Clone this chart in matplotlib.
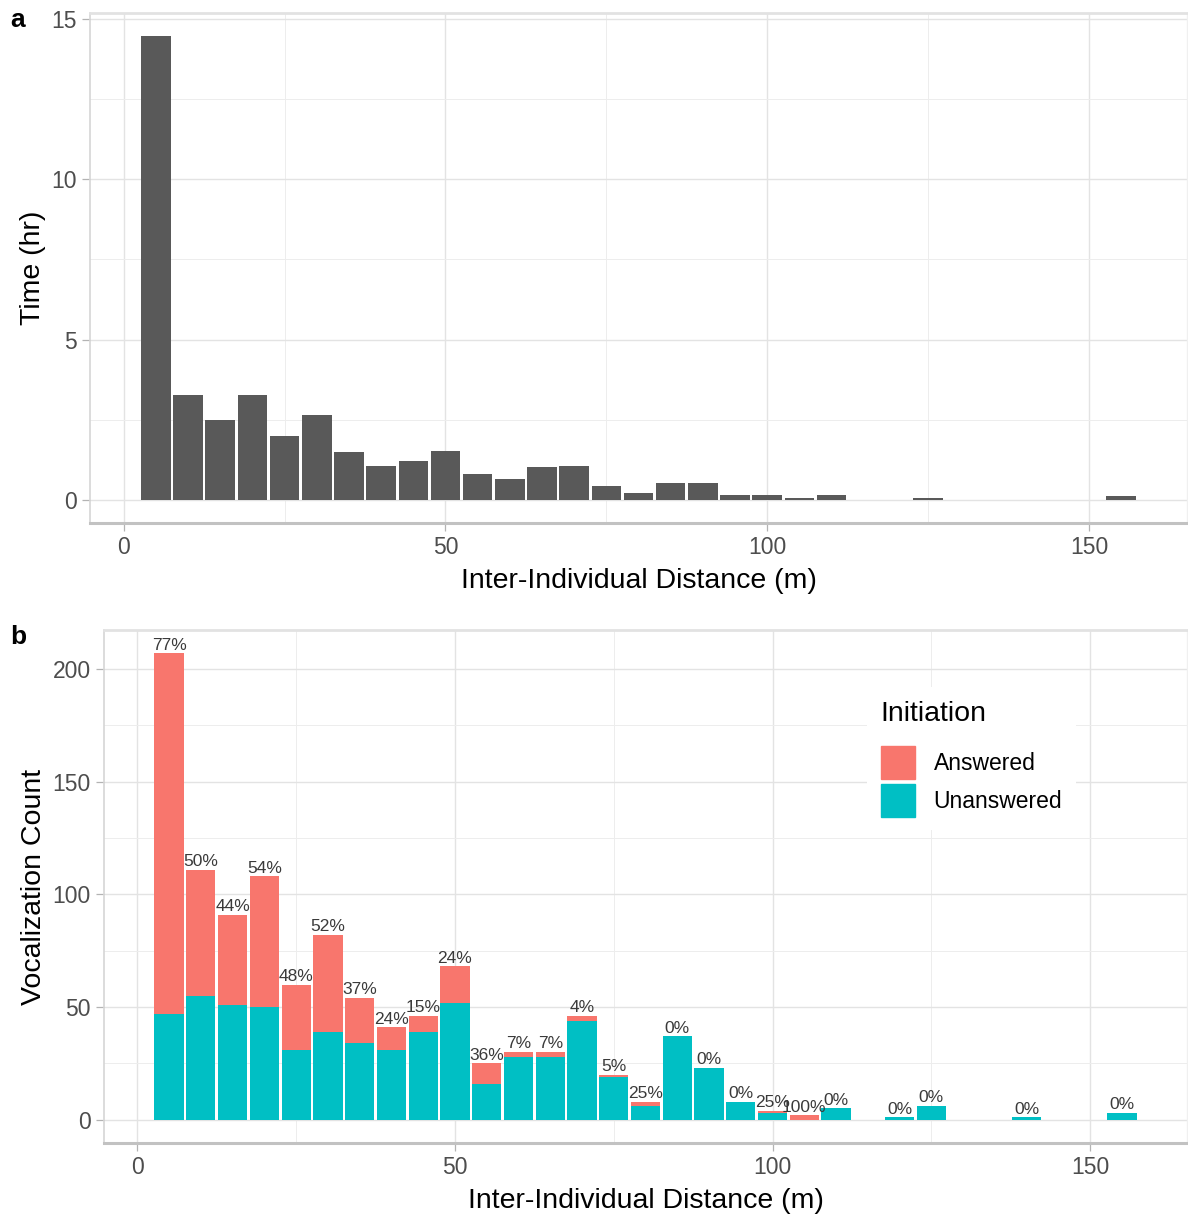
import matplotlib.pyplot as plt
from matplotlib.patches import Patch
from matplotlib.ticker import MultipleLocator

plt.rcParams['font.family'] = ['Liberation Sans', 'DejaVu Sans']

# panel a: time spent at each inter-individual distance (5 m bins)
time_bins = [5, 10, 15, 20, 25, 30, 35, 40, 45, 50, 55, 60, 65, 70, 75, 80,
             85, 90, 95, 100, 105, 110, 125, 155]
time_hr = [14.46, 3.27, 2.49, 3.27, 1.98, 2.65, 1.50, 1.05, 1.20, 1.52, 0.79,
           0.66, 1.02, 1.07, 0.43, 0.21, 0.53, 0.53, 0.15, 0.15, 0.07, 0.15,
           0.07, 0.13]

# panel b: vocalizations per distance bin, split by whether they were answered
voc_bins = [5, 10, 15, 20, 25, 30, 35, 40, 45, 50, 55, 60, 65, 70, 75, 80,
            85, 90, 95, 100, 105, 110, 120, 125, 140, 155]
answered = [160, 56, 40, 58, 29, 43, 20, 10, 7, 16, 9, 2, 2, 2, 1, 2,
            0, 0, 0, 1, 2, 0, 0, 0, 0, 0]
unanswered = [47, 55, 51, 50, 31, 39, 34, 31, 39, 52, 16, 28, 28, 44, 19, 6,
              37, 23, 8, 3, 0, 5, 1, 6, 1, 3]

RED = '#F8766D'
TEAL = '#00BFC4'
BAR_W = 4.6
GRID = '#E3E3E3'
TICK_COL = '#4D4D4D'


def style(ax, ymajor, ymax):
    ax.set_xlim(-5.25, 165.25)
    ax.set_ylim(-0.05 * ymax, 1.05 * ymax)
    ax.xaxis.set_major_locator(MultipleLocator(50))
    ax.xaxis.set_minor_locator(MultipleLocator(25))
    ax.yaxis.set_major_locator(MultipleLocator(ymajor))
    ax.yaxis.set_minor_locator(MultipleLocator(ymajor / 2))
    ax.grid(which='major', color=GRID, lw=1.0)
    ax.grid(which='minor', color='#EDEDED', lw=0.7)
    ax.set_axisbelow(True)
    ax.tick_params(which='major', length=5.5, width=0.9, color='#B3B3B3',
                   labelsize=16.5, labelcolor=TICK_COL, pad=4)
    ax.tick_params(which='minor', length=0)
    ax.spines['bottom'].set_color('#C2C2C2')
    ax.spines['bottom'].set_linewidth(2.2)
    ax.spines['top'].set_color('#E2E2E2')
    ax.spines['top'].set_linewidth(2.0)
    ax.spines['left'].set_color('#D6D6D6')
    ax.spines['left'].set_linewidth(1.2)
    ax.spines['right'].set_color('#F0F0F0')
    ax.spines['right'].set_linewidth(1.0)
    ax.set_xlabel('Inter-Individual Distance (m)', fontsize=20.5, labelpad=6)


fig = plt.figure(figsize=(11.88, 12.2), dpi=100)
ax1 = fig.add_axes([90 / 1188, 1 - 523 / 1220, 1097 / 1188, 510 / 1220])
ax2 = fig.add_axes([104 / 1188, 1 - 1143 / 1220, 1083 / 1188, 513 / 1220])

# a
ax1.bar(time_bins, time_hr, width=BAR_W, color='#595959')
style(ax1, 5, max(time_hr))
ax1.set_ylabel('Time (hr)', fontsize=20.5, labelpad=4)

# b
totals = [a + u for a, u in zip(answered, unanswered)]
ax2.bar(voc_bins, unanswered, width=BAR_W, color=TEAL)
ax2.bar(voc_bins, answered, width=BAR_W, bottom=unanswered, color=RED)
for x, a, t in zip(voc_bins, answered, totals):
    ax2.text(x, t + 0.3, f'{round(100 * a / t)}%', ha='center', va='bottom',
             fontsize=12.5, color='#3A3A3A')
style(ax2, 50, max(totals))
ax2.set_ylabel('Vocalization Count', fontsize=20.5, labelpad=4)

handles = [Patch(color=RED, label='Answered'),
           Patch(color=TEAL, label='Unanswered')]
leg = ax2.legend(handles=handles, title='Initiation', loc='upper left',
                 bbox_to_anchor=(0.694, 0.911), fontsize=16.5,
                 title_fontsize=20.5, frameon=True, fancybox=False,
                 edgecolor='none', facecolor='white', framealpha=1,
                 handlelength=1.5, handleheight=1.83, labelspacing=0.2,
                 handletextpad=0.8, borderpad=0.6)
leg._legend_box.align = 'left'
leg._legend_box.sep = 14

fig.text(18 / 1188, 1 - 20 / 1220, 'a', fontsize=19, fontweight='bold',
         ha='center', va='center')
fig.text(18 / 1188, 1 - 637 / 1220, 'b', fontsize=19, fontweight='bold',
         ha='center', va='center')

fig.savefig('out.png', dpi=100)
